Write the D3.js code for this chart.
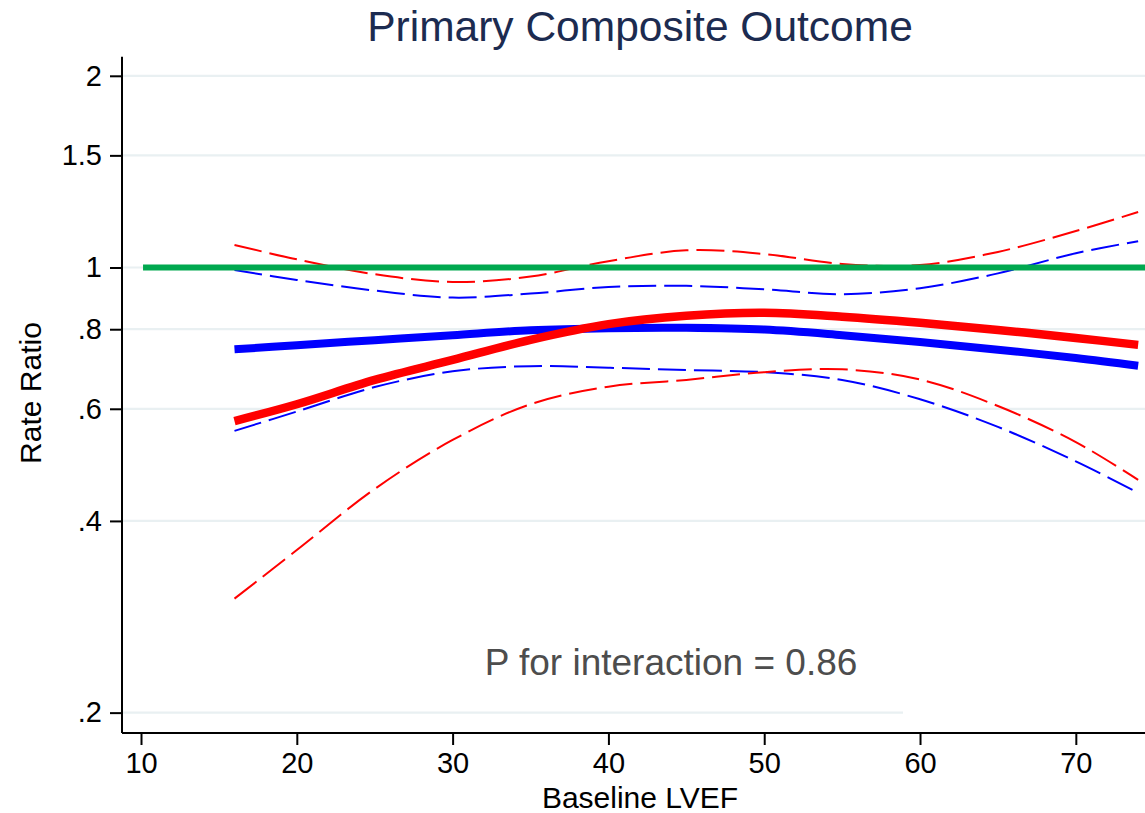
<!DOCTYPE html>
<html><head><meta charset="utf-8">
<script src="https://cdn.jsdelivr.net/npm/d3@7"></script>
<style>html,body{margin:0;padding:0;background:#fff;}svg{display:block;font-family:"Liberation Sans",Arial,Helvetica,sans-serif;}</style>
</head><body>
<svg id="c" width="1145" height="813"></svg>
<script>
// ---- data ----
const lvef = [16, 20, 25, 30, 35, 40, 45, 50, 55, 60, 65, 70, 74];
const redEstimate = [0.574, 0.610, 0.666, 0.716, 0.770, 0.815, 0.840, 0.849, 0.837, 0.819, 0.798, 0.775, 0.756];
const redUpper    = [1.085, 1.030, 0.976, 0.949, 0.968, 1.023, 1.064, 1.050, 1.013, 1.009, 1.058, 1.141, 1.222];
const redLower    = [0.302, 0.360, 0.449, 0.536, 0.610, 0.650, 0.666, 0.685, 0.692, 0.667, 0.606, 0.532, 0.464];
const blueEstimate= [0.744, 0.755, 0.769, 0.783, 0.797, 0.803, 0.804, 0.799, 0.783, 0.764, 0.743, 0.721, 0.701];
const blueUpper   = [0.991, 0.956, 0.920, 0.897, 0.910, 0.932, 0.936, 0.924, 0.908, 0.928, 0.979, 1.053, 1.100];
const blueLower   = [0.554, 0.594, 0.649, 0.687, 0.700, 0.696, 0.690, 0.685, 0.666, 0.621, 0.562, 0.496, 0.443];
const refX = [10.13, 74.44];
const refY = [1, 1];
const xTicks = [10, 20, 30, 40, 50, 60, 70];
const yTicks = [0.2, 0.4, 0.6, 0.8, 1, 1.5, 2];
const yTickLabels = [".2", ".4", ".6", ".8", "1", "1.5", "2"];
const titleText = "Primary Composite Outcome";
const xTitle = "Baseline LVEF";
const yTitle = "Rate Ratio";
const note = "P for interaction = 0.86";

// ---- layout ----
(function () {
const svg = d3.select("#c");
const mLeft = 122, mRight = 1145, mTop = 56.7, mBottom = 733;
const x = d3.scaleLinear().domain([8.78, 74.44]).range([mLeft, mRight]);
const y = d3.scaleLog().domain([0.1858, 2.143]).range([mBottom, mTop]);

// gridlines
svg.append("g").selectAll("line").data(yTicks).join("line")
  .attr("x1", mLeft).attr("x2", d => d === 0.2 ? 903 : mRight)
  .attr("y1", d => y(d)).attr("y2", d => y(d))
  .attr("stroke", "#e9f0f2").attr("stroke-width", 2.2);

// axes
const yAxis = d3.axisLeft(y).tickValues(yTicks)
  .tickFormat((d, i) => yTickLabels[i]).tickSize(12).tickPadding(8);
const gy = svg.append("g").attr("transform", `translate(${mLeft},0)`).call(yAxis);
const xAxis = d3.axisBottom(x).tickValues(xTicks).tickSize(12).tickPadding(7);
const gx = svg.append("g").attr("transform", `translate(0,${mBottom})`).call(xAxis);
[gx, gy].forEach(g => {
  g.select(".domain").attr("stroke", "#000").attr("stroke-width", 2);
  g.selectAll(".tick line").attr("stroke", "#000").attr("stroke-width", 2);
  g.selectAll(".tick text").attr("fill", "#000").style("font-size", "29px")
    .style("font-family", '"Liberation Sans", Arial, sans-serif');
});
gy.select(".domain").attr("d", `M0,${mTop}V${mBottom}`);
gx.select(".domain").attr("d", `M${mLeft},0H${mRight}`);
gx.selectAll(".tick text").attr("dy", "0.71em");

// lines
const line = d3.line().x(d => x(d[0])).y(d => y(d[1])).curve(d3.curveCatmullRom.alpha(0.5));
const zip = ys => lvef.map((v, i) => [v, ys[i]]);
function draw(ys, color, w, dash) {
  const p = svg.append("path").datum(zip(ys)).attr("d", line)
    .attr("fill", "none").attr("stroke", color).attr("stroke-width", w)
    .attr("stroke-linejoin", "round");
  if (dash) p.attr("stroke-dasharray", dash);
  return p;
}
draw(blueUpper, "#0000ff", 2, "28,8");
draw(blueLower, "#0000ff", 2, "28,8");
draw(redUpper, "#ff0000", 2, "28,8");
draw(redLower, "#ff0000", 2, "28,8");
draw(blueEstimate, "#0000ff", 8);
draw(redEstimate, "#ff0000", 8.5);
svg.append("path").datum(refX.map((v, i) => [v, refY[i]]))
  .attr("d", d3.line().x(d => x(d[0])).y(d => y(d[1])))
  .attr("stroke", "#00a84f").attr("stroke-width", 6).attr("fill", "none");

// texts
svg.append("text").attr("x", 640).attr("y", 41).attr("text-anchor", "middle")
  .attr("fill", "#1c2b50").style("font-size", "42.5px").text(titleText);
svg.append("text").attr("x", 640).attr("y", 808).attr("text-anchor", "middle")
  .attr("fill", "#000").style("font-size", "30px").text(xTitle);
svg.append("text").attr("transform", "translate(41,393) rotate(-90)").attr("text-anchor", "middle")
  .attr("fill", "#000").style("font-size", "30px").text(yTitle);
svg.append("text").attr("x", x(44.02)).attr("y", 675).attr("text-anchor", "middle")
  .attr("fill", "#4d4d4d").style("font-size", "37px").text(note);
})();
</script>
</body></html>
